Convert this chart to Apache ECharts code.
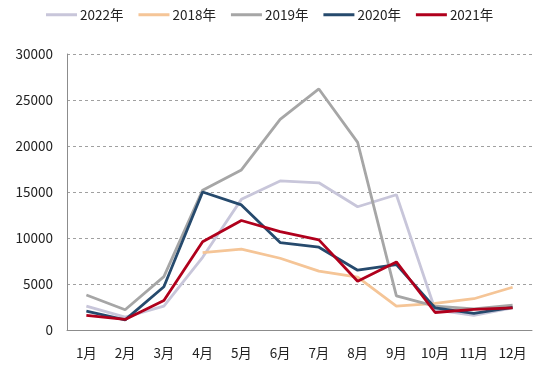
<!DOCTYPE html>
<html>
<head>
<meta charset="utf-8">
<script src="https://cdn.jsdelivr.net/npm/echarts@6/dist/echarts.min.js"></script>
<style>html,body{margin:0;padding:0;background:#fff}</style>
</head>
<body>
<div id="chart" style="width:550px;height:375px;"></div>
<script>
var months = ['1月','2月','3月','4月','5月','6月','7月','8月','9月','10月','11月','12月'];
var s2022 = [2600, 1400, 2600, 7900, 14200, 16200, 16000, 13400, 14700, 2200, 1600, 2400];
var s2018 = [null, null, null, 8400, 8800, 7800, 6400, 5750, 2600, 2900, 3400, 4650];
var s2019 = [3800, 2200, 5800, 15200, 17400, 22900, 26200, 20400, 3700, 2600, 2300, 2700];
var s2020 = [2050, 1100, 4700, 15000, 13600, 9500, 9000, 6500, 7100, 2400, 1800, 2450];
var s2021 = [1600, 1150, 3200, 9600, 11900, 10700, 9800, 5300, 7400, 1900, 2250, 2400];

var chart = echarts.init(document.getElementById('chart'));

function line(name, data, color) {
  return {
    name: name,
    type: 'line',
    data: data,
    symbol: 'none',
    lineStyle: { width: 2.8, color: color },
    itemStyle: { color: color }
  };
}

chart.setOption({
  textStyle: { fontFamily: 'Noto Sans CJK SC' },
  legend: {
    top: 3,
    left: 41,
    icon: 'rect',
    itemWidth: 31,
    itemHeight: 3,
    itemGap: 15,
    textStyle: { fontSize: 13.5, color: '#222', padding: [0, 0, 0, -2] },
    data: ['2022年', '2018年', '2019年', '2020年', '2021年']
  },
  grid: { left: 67, right: 18, top: 54, bottom: 45 },
  xAxis: {
    type: 'category',
    data: months,
    axisLine: { lineStyle: { color: '#8c8c8c', width: 1 } },
    axisTick: { show: false },
    axisLabel: { color: '#222', fontSize: 13.5, margin: 16 }
  },
  yAxis: {
    type: 'value',
    min: 0,
    max: 30000,
    interval: 5000,
    axisLine: { show: true, lineStyle: { color: '#8c8c8c', width: 1 } },
    axisTick: { show: false },
    axisLabel: { color: '#222', fontSize: 13.5, margin: 14, formatter: function (v) { return String(v); } },
    splitLine: { lineStyle: { color: '#a0a0a0', type: [3, 3], width: 1 } }
  },
  series: [
    line('2022年', s2022, '#c8c6da'),
    line('2018年', s2018, '#f5c597'),
    line('2019年', s2019, '#a6a6a6'),
    line('2020年', s2020, '#264a6d'),
    line('2021年', s2021, '#b0001c')
  ]
});
</script>
</body>
</html>
